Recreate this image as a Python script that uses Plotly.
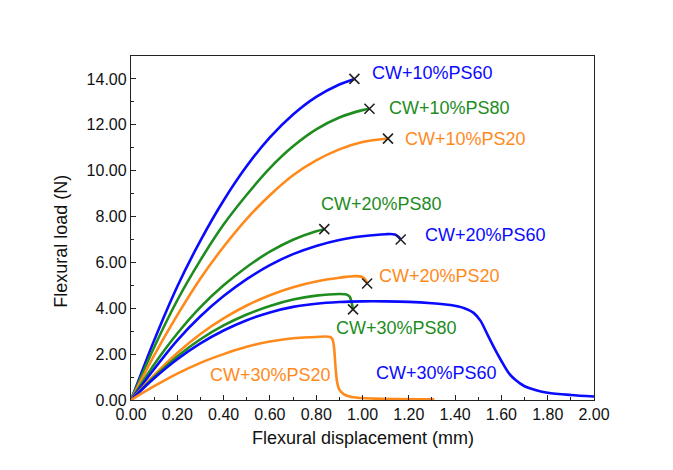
import plotly.graph_objects as go

# ---- data ----
names = ["CW+10%PS60", "CW+10%PS80", "CW+10%PS20",
         "CW+20%PS80", "CW+20%PS60", "CW+20%PS20",
         "CW+30%PS80", "CW+30%PS60", "CW+30%PS20"]

x_10ps60 = [0, 0.1, 0.2, 0.3, 0.4, 0.5, 0.6, 0.7, 0.8, 0.9, 0.965]
y_10ps60 = [0, 2.6, 4.95, 6.95, 8.7, 10.2, 11.45, 12.45, 13.22, 13.76, 14.0]

x_10ps80 = [0, 0.1, 0.2, 0.3, 0.4, 0.5, 0.6, 0.7, 0.8, 0.9, 1.0, 1.03]
y_10ps80 = [0, 2.3, 4.35, 6.1, 7.65, 8.95, 10.11, 11.06, 11.8, 12.32, 12.64, 12.7]

x_10ps20 = [0, 0.1, 0.2, 0.3, 0.4, 0.5, 0.6, 0.7, 0.8, 0.9, 1.0, 1.11]
y_10ps20 = [0, 1.95, 3.7, 5.3, 6.68, 7.9, 8.93, 9.8, 10.45, 10.93, 11.25, 11.4]

x_20ps80 = [0, 0.1, 0.2, 0.3, 0.4, 0.5, 0.6, 0.7, 0.8, 0.835]
y_20ps80 = [0, 1.55, 2.9, 4.05, 5.0, 5.8, 6.47, 6.99, 7.36, 7.45]

x_20ps60 = [0, 0.1, 0.2, 0.3, 0.4, 0.5, 0.6, 0.7, 0.8, 0.9, 1.0, 1.1, 1.14, 1.155, 1.165]
y_20ps60 = [0, 1.35, 2.6, 3.65, 4.53, 5.27, 5.88, 6.36, 6.72, 6.98, 7.14, 7.23, 7.22, 7.12, 7.0]

x_20ps20 = [0, 0.1, 0.2, 0.3, 0.4, 0.5, 0.6, 0.7, 0.8, 0.9, 0.97, 1.0, 1.012, 1.02]
y_20ps20 = [0, 1.08, 2.05, 2.88, 3.56, 4.12, 4.57, 4.92, 5.17, 5.33, 5.4, 5.36, 5.25, 5.08]

x_30ps80 = [0, 0.1, 0.2, 0.3, 0.4, 0.5, 0.6, 0.7, 0.8, 0.9, 0.93, 0.945, 0.953, 0.959]
y_30ps80 = [0, 1.0, 1.9, 2.65, 3.25, 3.73, 4.1, 4.38, 4.55, 4.62, 4.6, 4.5, 4.25, 3.95]

x_30ps60 = [0, 0.1, 0.2, 0.3, 0.4, 0.5, 0.6, 0.7, 0.8, 0.9, 1.0, 1.1, 1.2, 1.3, 1.38,
            1.44, 1.48, 1.51, 1.54, 1.57, 1.6, 1.63, 1.66, 1.7, 1.75, 1.8, 1.9, 2.0]
y_30ps60 = [0, 0.95, 1.78, 2.47, 3.03, 3.48, 3.82, 4.06, 4.2, 4.27, 4.3, 4.3, 4.28, 4.22, 4.14,
            4.0, 3.8, 3.45, 2.85, 2.25, 1.7, 1.2, 0.88, 0.6, 0.43, 0.32, 0.22, 0.15]

x_30ps20 = [0, 0.1, 0.2, 0.3, 0.4, 0.5, 0.6, 0.7, 0.8, 0.86, 0.87, 0.877, 0.883,
            0.89, 0.9, 0.92, 0.96, 1.05, 1.31]
y_30ps20 = [0, 0.6, 1.15, 1.62, 2.0, 2.32, 2.55, 2.69, 2.75, 2.75, 2.65, 2.3, 1.5,
            0.8, 0.45, 0.25, 0.12, 0.06, 0.03]

x_ticks = [0.0, 0.2, 0.4, 0.6, 0.8, 1.0, 1.2, 1.4, 1.6, 1.8, 2.0]
y_ticks = [0, 2, 4, 6, 8, 10, 12, 14]

BLUE = "#0a0aff"
GREEN = "#1e8c1e"
ORANGE = "#ff8a1c"

series = [
    (x_10ps60, y_10ps60, BLUE, True),
    (x_10ps80, y_10ps80, GREEN, True),
    (x_10ps20, y_10ps20, ORANGE, True),
    (x_20ps80, y_20ps80, GREEN, True),
    (x_20ps60, y_20ps60, BLUE, True),
    (x_20ps20, y_20ps20, ORANGE, True),
    (x_30ps80, y_30ps80, GREEN, True),
    (x_30ps60, y_30ps60, BLUE, False),
    (x_30ps20, y_30ps20, ORANGE, False),
]

# label centre positions (data coords)
label_pos = [(1.303, 14.26), (1.377, 12.73), (1.446, 11.38),
             (1.082, 8.55), (1.532, 7.2), (1.333, 5.41),
             (1.145, 3.14), (1.32, 1.18), (0.602, 1.09)]

fig = go.Figure()
FONT = "Liberation Sans, Arial, sans-serif"

for (xs, ys, col, brk), nm in zip(series, names):
    fig.add_trace(go.Scatter(x=xs, y=ys, mode="lines", name=nm,
                             line=dict(color=col, width=2.6, shape="spline", smoothing=0.8),
                             showlegend=False, hoverinfo="skip"))

for (xs, ys, col, brk) in series:
    if brk:
        fig.add_trace(go.Scatter(x=[xs[-1]], y=[ys[-1]], mode="markers",
                                 marker=dict(symbol="x-thin", size=10,
                                             line=dict(color="#222222", width=1.6)),
                                 showlegend=False, hoverinfo="skip"))

for (lx, ly), nm, (xs, ys, col, brk) in zip(label_pos, names, series):
    fig.add_annotation(x=lx, y=ly, text=nm, showarrow=False,
                       font=dict(family=FONT, size=18, color=col),
                       xanchor="center", yanchor="middle")

fig.add_annotation(x=0.5, y=-0.11, xref="paper", yref="paper",
                   text="Flexural displacement (mm)", showarrow=False,
                   font=dict(family=FONT, size=18, color="#111111"),
                   xanchor="center", yanchor="middle")
fig.add_annotation(x=-0.152, y=0.462, xref="paper", yref="paper",
                   text="Flexural load (N)", showarrow=False, textangle=-90,
                   font=dict(family=FONT, size=18, color="#111111"),
                   xanchor="center", yanchor="middle")

axis_common = dict(showgrid=False, zeroline=False, showline=True, linecolor="#222222",
                   linewidth=1.3, mirror=True, ticks="inside", ticklen=5, tickwidth=1,
                   tickcolor="#222222",
                   tickfont=dict(family=FONT, size=16, color="#111111"))

fig.update_xaxes(range=[0, 2.0], tickvals=x_ticks,
                 ticktext=[f"{v:.2f}" for v in x_ticks],
                 minor=dict(ticks="inside", ticklen=3, dtick=0.1, tickcolor="#222222"),
                 **axis_common)
fig.update_yaxes(range=[0, 15], tickvals=y_ticks,
                 ticktext=[f"{v:.2f}" for v in y_ticks],
                 minor=dict(ticks="inside", ticklen=3, dtick=1, tickcolor="#222222"),
                 **axis_common)

fig.update_layout(width=665, height=462, margin=dict(l=123, r=79, t=48, b=70),
                  plot_bgcolor="white", paper_bgcolor="white")

fig.write_html("out.html")
